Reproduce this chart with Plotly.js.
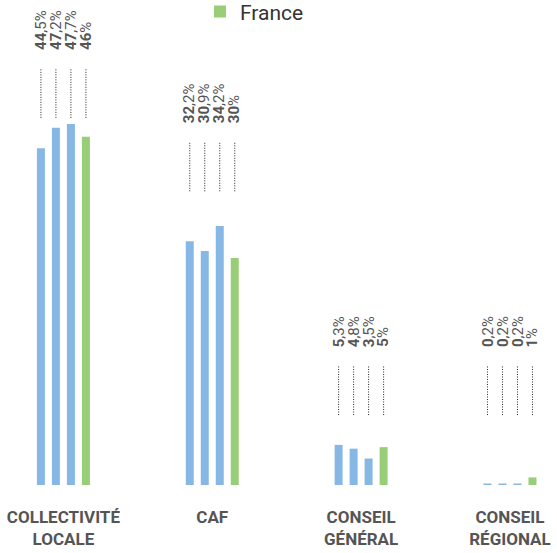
<!DOCTYPE html>
<html>
<head>
<meta charset="utf-8">
<script src="https://cdn.plot.ly/plotly-3.0.1.min.js"></script>
<style>html,body{margin:0;padding:0;background:#fff;}#chart{width:557px;height:553px;}</style>
</head>
<body>
<div id="chart"></div>
<script>
// ---- data ----
const categories = ["COLLECTIVITÉ<br>LOCALE", "CAF", "CONSEIL<br>GÉNÉRAL", "CONSEIL<br>RÉGIONAL"];
const serie1 = [44.5, 32.2, 5.3, 0.2];
const serie2 = [47.2, 30.9, 4.8, 0.2];
const serie3 = [47.7, 34.2, 3.5, 0.2];
const france = [46, 30, 5, 1];
const seriesNames = ["Série 1", "Série 2", "Série 3", "France"];

// ---- style / layout config ----
const BLUE = "#87b8e5";
const GREEN = "#98ce78";
const bargap = 0.597;
const bargroupgap = 0.467;
const leaderBottom = [48.5, 38.8, 9.25, 9.25]; // y (data units) where dotted leaders end, per group
const leaderLen = 6.6;
const labelGap = 2.1;

const allSeries = [serie1, serie2, serie3, france];
const colors = [BLUE, BLUE, BLUE, GREEN];

const traces = allSeries.map((vals, k) => ({
  type: "bar",
  x: categories,
  y: vals,
  name: seriesNames[k],
  marker: {color: colors[k]},
  showlegend: k === 3,
  hoverinfo: "none"
}));

function fmt(v) {
  const s = String(v).split(".");
  return "<b>" + s[0] + "</b>" + (s[1] ? "," + s[1] : "") + "%";
}

const slot = (1 - bargap) / allSeries.length;
const shapes = [];
const annotations = [];
categories.forEach((c, i) => {
  allSeries.forEach((vals, k) => {
    const xpos = i + (k - (allSeries.length - 1) / 2) * slot;
    shapes.push({
      type: "line", xref: "x", yref: "y",
      x0: xpos, x1: xpos,
      y0: leaderBottom[i], y1: leaderBottom[i] + leaderLen,
      line: {color: "#222", width: 1, dash: "1px,1.5px"}
    });
    annotations.push({
      xref: "x", yref: "y",
      x: xpos, y: leaderBottom[i] + leaderLen + labelGap,
      text: fmt(vals[i]),
      textangle: -90,
      showarrow: false,
      xanchor: "center", yanchor: "bottom",
      font: {family: "Roboto", size: 15, color: "#555"}
    });
  });
});

const layout = {
  width: 557, height: 553,
  margin: {l: 0, r: 0, t: 0, b: 68, autoexpand: false},
  paper_bgcolor: "#fff", plot_bgcolor: "#fff",
  barmode: "group",
  bargap: bargap,
  bargroupgap: bargroupgap,
  xaxis: {
    type: "category",
    range: [-0.426, 3.316],
    showgrid: false, zeroline: false, showline: false,
    ticks: "",
    ticklabelstandoff: 20,
    automargin: false,
    tickfont: {family: "Roboto", size: 17, color: "#555", weight: "bold"}
  },
  yaxis: {
    range: [0, 64.07],
    visible: false, fixedrange: true
  },
  showlegend: true,
  legend: {
    orientation: "v",
    x: 0.359, xanchor: "left",
    y: 1.018, yanchor: "top",
    font: {family: "Roboto", size: 21, color: "#333"},
    bgcolor: "rgba(0,0,0,0)"
  },
  shapes: shapes,
  annotations: annotations
};

Plotly.newPlot("chart", traces, layout, {displayModeBar: false, staticPlot: true});
</script>
</body>
</html>
